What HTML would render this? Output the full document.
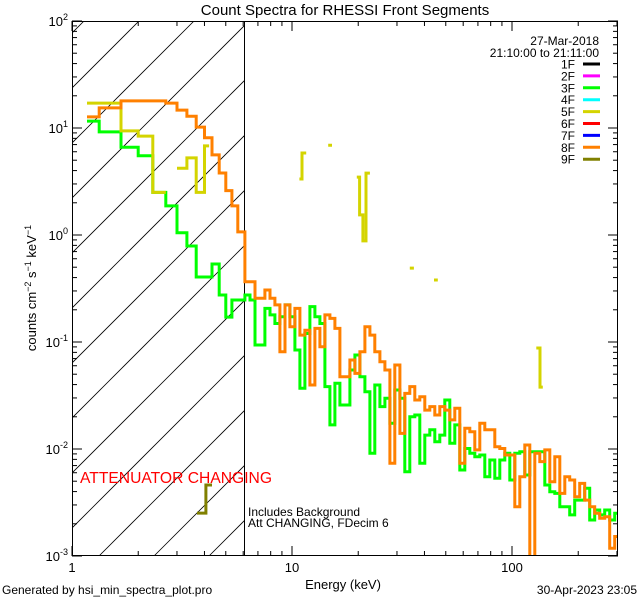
<!DOCTYPE html>
<html><head><meta charset="utf-8"><style>
html,body{margin:0;padding:0;background:#fff;}
svg{display:block;font-family:"Liberation Sans","DejaVu Sans",sans-serif;}
</style></head><body>
<svg id="chart" width="640" height="600" viewBox="0 0 640 600" xmlns="http://www.w3.org/2000/svg">
<rect x="0" y="0" width="640" height="600" fill="#fff"/>
<defs><clipPath id="plotclip"><rect x="72" y="21" width="546" height="535"/></clipPath>
<clipPath id="hatchclip"><rect x="72" y="21" width="172" height="535"/></clipPath></defs>
<text x="345" y="15" font-size="15" text-anchor="middle">Count Spectra for RHESSI Front Segments</text>
<g id="hatch" clip-path="url(#hatchclip)"></g>
<line x1="244.5" y1="21" x2="244.5" y2="556" stroke="#000" stroke-width="1"/>
<g id="series" clip-path="url(#plotclip)"></g>
<rect x="72.5" y="21.5" width="545" height="534" fill="none" stroke="#000" stroke-width="1"/>
<g id="axes"></g>
<text x="343" y="589" font-size="13" text-anchor="middle">Energy (keV)</text>
<text transform="translate(36,288) rotate(-90)" font-size="13" text-anchor="middle">counts cm<tspan dy="-5" font-size="9">−2</tspan><tspan dy="5"> s</tspan><tspan dy="-5" font-size="9">−1</tspan><tspan dy="5"> keV</tspan><tspan dy="-5" font-size="9">−1</tspan></text>
<text x="599" y="45" font-size="12" text-anchor="end">27-Mar-2018</text>
<text x="599" y="57" font-size="12" text-anchor="end">21:10:00 to 21:11:00</text>
<g id="legend"></g>
<text x="80" y="483" font-size="16" fill="#ff0000" textLength="192" lengthAdjust="spacingAndGlyphs">ATTENUATOR CHANGING</text>
<text x="248" y="516" font-size="12">Includes Background</text>
<text x="248" y="527" font-size="12">Att CHANGING, FDecim 6</text>
<text x="2" y="594" font-size="12">Generated by hsi_min_spectra_plot.pro</text>
<text x="637" y="594" font-size="12" text-anchor="end">30-Apr-2023 23:05</text>
</svg>
<script>
const xTickMajor = [1, 10, 100];
const xTickLabels = ["1", "10", "100"];
const yTickExps = [2, 1, 0, -1, -2, -3];

const gridEdges = [6.11,6.44,6.79,7.15,7.53,7.94,8.36,8.81,9.29,9.78,10.31,10.86,11.45,12.06,12.71,13.39,14.11,14.87,15.67,16.51,17.39,18.33,19.31,20.35,21.44,22.59,23.80,25.08,26.43,27.85,29.34,30.92,32.58,34.33,36.17,38.11,40.16,42.32,44.59,46.98,49.50,52.16,54.96,57.91,61.02,64.30,67.75,71.39,75.22,79.26,83.52,88.00,92.73,97.71,102.95,108.48,114.31,120.44,126.91,133.72,140.90,148.47,156.44,164.84,173.69,183.02,192.84,203.19,214.10,225.60,237.71,250.47,263.92,278.09,293.02,308.7];

const greenLowEdges = [1.17,1.33,1.67,2.0,2.33,2.67,3.0,3.33,3.67,4.33,4.67,5.0,5.33,6.11];
const greenLowValues = [11.6,9.2,6.6,5.5,2.5,1.87,1.05,0.79,0.405,0.536,0.275,0.171,0.247];
const greenHighValues = [0.275,0.247,0.0937,0.0937,0.206,0.179,0.149,0.172,0.222,0.172,0.0841,0.0369,0.120,0.214,0.172,0.149,0.0383,0.0168,0.0411,0.0258,0.0258,0.0547,0.0756,0.0474,0.0343,0.00912,0.0396,0.0249,0.0298,0.0174,0.0356,0.0298,0.00614,0.0200,0.0208,0.00735,0.0135,0.0151,0.0117,0.0135,0.0287,0.0113,0.0168,0.00637,0.0101,0.00912,0.00848,0.00879,0.00551,0.00789,0.00532,0.00789,0.00912,0.00513,0.00912,0.00944,0.00571,0.00944,0.00944,0.00944,0.00461,0.00399,0.00385,0.00289,0.00289,0.00242,0.00333,0.00333,0.00429,0.00217,0.00269,0.00242,0.00269,0.00217,0.00251];

const orangeLowEdges = [1.17,1.33,1.67,2.67,3.0,3.33,3.67,4.0,4.33,4.67,5.0,5.33,5.67,6.11];
const orangeLowValues = [12.7,15.4,17.9,17.1,14.7,12.9,10.2,8.1,5.6,3.8,2.6,1.87,1.07];
const orangeHighValues = [0.366,0.366,0.256,0.256,0.306,0.256,0.222,0.0812,0.222,0.139,0.206,0.116,0.129,0.0396,0.134,0.0904,0.179,0.166,0.134,0.0474,0.0474,0.0679,0.0509,0.0812,0.139,0.116,0.0812,0.0655,0.0547,0.00735,0.0610,0.0140,0.0331,0.0383,0.0287,0.0308,0.0231,0.0249,0.0208,0.0249,0.0231,0.0187,0.0240,0.00735,0.0156,0.0145,0.0098,0.0174,0.0151,0.0151,0.0105,0.0101,0.00879,0.00879,0.00289,0.00551,0.0109,0.00099,0.00912,0.00762,0.0098,0.00495,0.00848,0.00385,0.00551,0.00513,0.00358,0.00477,0.00333,0.00289,0.00251,0.00225,0.00233,0.00118,0.00152];

const yellowEdges = [1.17,1.67,2.0,2.33,2.67,3.0,3.33,3.67,4.0,4.2,10.8,11.1,11.6,14.6,15.2,19.7,20.3,21.0,21.7,22.6,34.3,35.8,44.2,46.0,129,134,138];
const yellowValues = [17.1,9.4,8.4,2.5,null,4.2,5.25,2.5,6.8,null,3.34,5.84,null,6.9,null,3.48,1.54,0.88,3.79,null,0.49,null,0.38,null,0.0879,0.0379];

const oliveEdges = [3.7,4.06,4.33];
const oliveValues = [0.00252,0.00461];

const legendLabels = ["1F","2F","3F","4F","5F","6F","7F","8F","9F"];
const legendColors = ["#000000","#ff00ff","#00ff00","#00ffff","#d4d400","#ff0000","#0000ff","#ff8000","#808000"];

const NS = "http://www.w3.org/2000/svg";
const X0 = 72, XDEC = 220, Y0 = 21, YDEC = 107, XR = 618, YB = 556;
function xs(e){ return X0 + XDEC * Math.log10(e); }
function ys(v){ return Y0 + YDEC * (2 - Math.log10(v)); }
function mk(tag, attrs, parent){ const el = document.createElementNS(NS, tag); for (const k in attrs) el.setAttribute(k, attrs[k]); parent.appendChild(el); return el; }

// hatch
const hatch = document.getElementById('hatch');
for (let i = -12; i < 12; i++) {
  const bx = 99 + i * 55;
  const ln = mk('line', {x1: bx, y1: YB, x2: bx + 600, y2: YB - 600, stroke: '#000', 'stroke-width': 0.8}, hatch);
  
  
}

function stepPath(edges, values){
  let d = '', open = false;
  for (let i = 0; i < values.length; i++) {
    const v = values[i];
    if (v === null) { open = false; continue; }
    const x1 = xs(edges[i]), x2 = xs(edges[i+1]), y = ys(v);
    if (!open) { d += 'M' + x1.toFixed(1) + ' ' + y.toFixed(1); open = true; }
    else d += 'V' + y.toFixed(1);
    d += 'H' + x2.toFixed(1);
  }
  return d;
}
const series = document.getElementById('series');
function drawSeries(name, edges, values, color){
  const p = mk('path', {d: stepPath(edges, values), fill: 'none', stroke: color, 'stroke-width': 3, 'stroke-linejoin': 'miter'}, series);
  
  
}
drawSeries('series-3f', greenLowEdges.concat(gridEdges.slice(1)), greenLowValues.concat(greenHighValues), '#00ff00');
drawSeries('series-5f', yellowEdges, yellowValues, '#d4d400');
drawSeries('series-8f', orangeLowEdges.concat(gridEdges.slice(1)), orangeLowValues.concat(orangeHighValues), '#ff8000');
drawSeries('series-9f', oliveEdges, oliveValues, '#808000');

// axes
const axes = document.getElementById('axes');
for (let d = 0; d < 3; d++) {
  for (let m = 1; m <= 9; m++) {
    const e = m * Math.pow(10, d);
    const x = xs(e);
    if (x > XR) continue;
    const len = m === 1 ? 10 : 5;
    const t1 = mk('line', {x1: x, y1: YB, x2: x, y2: YB - len, stroke: '#000', 'stroke-width': 1}, axes);
    
    
    const t2 = mk('line', {x1: x, y1: Y0, x2: x, y2: Y0 + len, stroke: '#000', 'stroke-width': 1}, axes);
    
    
  }
}
xTickMajor.forEach((e, i) => {
  const t = mk('text', {x: xs(e), y: 572, 'font-size': 13, 'text-anchor': 'middle'}, axes);
  t.textContent = xTickLabels[i];
  
  
});
yTickExps.forEach(p => {
  for (let m = 1; m <= 9; m++) {
    const v = m * Math.pow(10, p);
    const y = ys(v);
    if (y < Y0 - 0.5 || y > YB + 0.5) continue;
    const len = m === 1 ? 10 : 5;
    const a = mk('line', {x1: X0, y1: y, x2: X0 + len, y2: y, stroke: '#000', 'stroke-width': 1}, axes);
    
    
    const b = mk('line', {x1: XR, y1: y, x2: XR - len, y2: y, stroke: '#000', 'stroke-width': 1}, axes);
    
    
  }
  const t = mk('text', {x: 68, y: ys(Math.pow(10, p)) + 5, 'font-size': 13, 'text-anchor': 'end'}, axes);
  
  
  const s1 = document.createElementNS(NS, 'tspan'); s1.textContent = '10'; t.appendChild(s1);
  const s2 = document.createElementNS(NS, 'tspan'); s2.setAttribute('dy', '-6'); s2.setAttribute('font-size', '9'); s2.textContent = String(p); t.appendChild(s2);
});

// legend
const legend = document.getElementById('legend');
legendLabels.forEach((lab, i) => {
  const y = 64 + i * 11.9;
  const g = mk('g', {}, legend);
  
  
  const t = mk('text', {x: 575, y: y + 4.5, 'font-size': 12, 'text-anchor': 'end'}, g);
  t.textContent = lab;
  mk('line', {x1: 583, y1: y, x2: 600, y2: y, stroke: legendColors[i], 'stroke-width': 3}, g);
});
</script>
</body></html>
